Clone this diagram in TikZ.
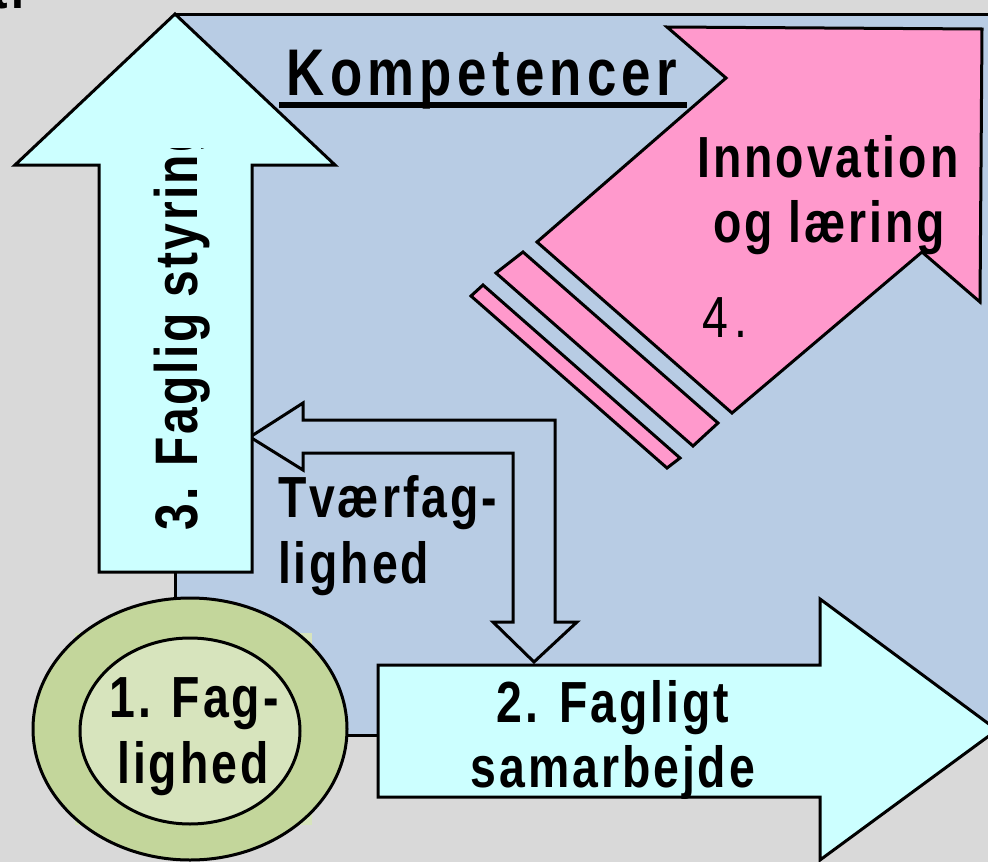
\documentclass[tikz,border=0pt]{standalone}
\usepackage{fontspec}
\newfontfamily\lsb{Liberation Sans}[FakeStretch=0.8,LetterSpace=5]
\definecolor{bggrey}{HTML}{D9D9D9}
\definecolor{kblue}{HTML}{B8CCE4}
\definecolor{kcyan}{HTML}{CCFFFF}
\definecolor{kpink}{HTML}{FF99CC}
\definecolor{gouter}{HTML}{C3D69B}
\definecolor{ginner}{HTML}{D7E4BD}
\tikzset{
  shp/.style={draw=black,line width=3pt,line join=miter},
  lbl/.style={inner sep=0pt,outer sep=0pt,font=\lsb\bfseries\fontsize{58}{65}\selectfont},
  lblr/.style={inner sep=0pt,outer sep=0pt,font=\lsb\fontsize{58}{65}\selectfont\addfontfeatures{LetterSpace=12}}
}
\begin{document}
\begin{tikzpicture}[x=1pt,y=-1pt]
\useasboundingbox (0,0) rectangle (988,862);
\fill[bggrey] (0,0) rectangle (988,862);
% blue field
\draw[shp,fill=kblue] (175,14) rectangle (1010,735);
% pink arrow (4.)
\draw[shp,fill=kpink] (667,27) -- (982,29) -- (980,302) -- (922,252) -- (732,413) -- (537,242) -- (726,78) -- cycle;
\draw[shp,fill=kpink] (496,273) -- (523,252) -- (718,423) -- (693,446) -- cycle;
\draw[shp,fill=kpink] (471,296) -- (483,285) -- (680,458) -- (667,468) -- cycle;
% bent double arrow (Tvaerfaglighed)
\draw[shp,fill=kblue] (250,437) -- (303,403) -- (303,420) -- (555,420) -- (555,622) -- (577,622) -- (534,662) -- (493,622) -- (513,622) -- (513,453) -- (303,453) -- (303,470) -- cycle;
% up arrow (3.)
\draw[shp,fill=kcyan] (175,14) -- (335,165) -- (252,165) -- (252,572) -- (99,572) -- (99,165) -- (15,165) -- cycle;
% right arrow (2.)
\draw[shp,fill=kcyan] (378,665) -- (820,665) -- (820,599) -- (997,730) -- (820,860) -- (820,797) -- (378,797) -- cycle;
% ellipse (1.)
\fill[ginner] (75,633) rectangle (312,825);
\draw[shp,fill=gouter] (190,729) ellipse [x radius=157,y radius=131];
\draw[shp,fill=ginner] (190,731) ellipse [x radius=110,y radius=93];
% texts
\node[lbl,anchor=base east] (tfrag) at (24,9) {t.};
\node[lbl,anchor=base,font=\lsb\bfseries\fontsize{66}{70}\selectfont\addfontfeatures{LetterSpace=8}] (komp) at (482,95) {Kompetencer};
\draw[line width=6pt] (279,105) -- (687,105);
\node[lbl,anchor=base] (inno1) at (828,177) {Innovation};
\node[lbl,anchor=base] (inno2) at (829,242) {og læring};
\node[lblr,anchor=base west] (four) at (702,337) {4.};
\node[lbl,anchor=base west] (tvaer1) at (278,517) {Tværfag-};
\node[lbl,anchor=base west] (tvaer2) at (278,583) {lighed};
\node[lbl,anchor=base] (samar1) at (613,722) {2. Fagligt};
\node[lbl,anchor=base] (samar2) at (613,787) {samarbejde};
\node[lbl,anchor=base] (fag1) at (194,717) {1. Fag-};
\node[lbl,anchor=base] (fag2) at (193,783) {lighed};
\begin{scope}
\clip (101,148) rectangle (251,571);
\node[lbl,rotate=90,anchor=base west,font=\lsb\bfseries\fontsize{60}{65}\selectfont\addfontfeatures{LetterSpace=4}] (styr) at (197,530) {3. Faglig styring};
\end{scope}
\end{tikzpicture}
\end{document}
